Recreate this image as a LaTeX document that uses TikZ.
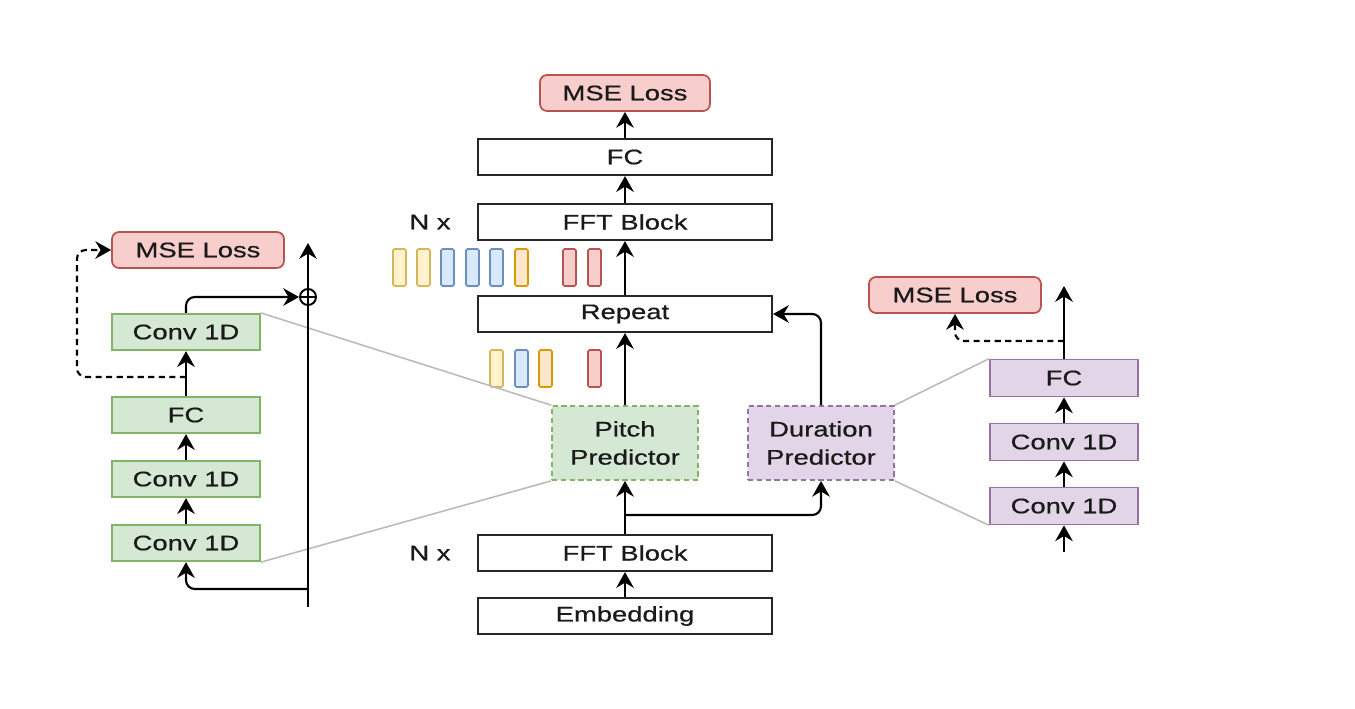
\documentclass[tikz,border=0pt]{standalone}
\usepackage{fontspec}
\setmainfont{Liberation Sans}[FakeStretch=1.3,FakeBold=0.6]
\usetikzlibrary{arrows.meta}
\definecolor{redF}{HTML}{F8CECC}\definecolor{redD}{HTML}{B85450}
\definecolor{grnF}{HTML}{D5E8D4}\definecolor{grnD}{HTML}{82B366}
\definecolor{purF}{HTML}{E1D5E7}\definecolor{purD}{HTML}{9673A6}
\definecolor{yelF}{HTML}{FFF2CC}\definecolor{yelD}{HTML}{D6B656}
\definecolor{bluF}{HTML}{DAE8FC}\definecolor{bluD}{HTML}{6C8EBF}
\definecolor{orgF}{HTML}{FFE6CC}\definecolor{orgD}{HTML}{D79B00}
\definecolor{txt}{HTML}{1A1A1A}
\definecolor{gryL}{HTML}{BBBBBB}
\begin{document}
\begin{tikzpicture}[x=0.02cm,y=-0.02cm,
  every node/.style={font=\fontsize{12}{15}\selectfont, text=txt, inner sep=0pt, align=center},
  blk/.style={draw=black!85, line width=1.2pt, fill=white, minimum width=5.88cm, minimum height=0.72cm},
  loss/.style={draw=redD, fill=redF, line width=1pt, rounded corners=4pt, minimum width=3.44cm, minimum height=0.72cm},
  gbox/.style={draw=grnD, fill=grnF, line width=1pt, minimum width=2.96cm, minimum height=0.73cm},
  pbox/.style={draw=purD, fill=purF, line width=1pt, minimum width=2.96cm, minimum height=0.74cm},
  pred/.style={line width=1pt, dash pattern=on 3pt off 2pt, minimum width=2.92cm, minimum height=1.48cm},
  arr/.style={draw=black, line width=1.2pt, -{Stealth[length=9pt,width=10pt,inset=3pt]}},
  rc/.style={rounded corners=5pt},
  dsh/.style={dash pattern=on 3.5pt off 2.5pt},
  gline/.style={draw=gryL, line width=0.9pt},
  bar/.style={line width=0.9pt}
]
\useasboundingbox (0,0) rectangle (1355,708);

% centre column
\node[loss, minimum width=3.4cm] (mse1) at (625,93) {MSE Loss};
\node[blk] (fc1) at (625,157) {FC};
\node[blk] (fft1) at (625,222) {FFT Block};
\node (nx1) at (430,222) {N x};
\node[blk] (rep) at (625,314) {Repeat};
\node[pred, draw=grnD, fill=grnF] (pitch) at (625,443) {Pitch\\[1pt]Predictor};
\node[pred, draw=purD, fill=purF] (dur) at (821,443) {Duration\\[1pt]Predictor};
\node[blk] (fft2) at (625,553) {FFT Block};
\node (nx2) at (430,553) {N x};
\node[blk] (emb) at (625,616) {Embedding};

% bars
\foreach \xa/\f/\d in {393/yelF/yelD,417/yelF/yelD,441/bluF/bluD,466/bluF/bluD,490/bluF/bluD,515/orgF/orgD,563/redF/redD,588/redF/redD}
  \draw[bar, draw=\d, fill=\f, rounded corners=0.8pt] (\xa,249) rectangle ++(13,37);
\foreach \xa/\f/\d in {490/yelF/yelD,515/bluF/bluD,539/orgF/orgD,588/redF/redD}
  \draw[bar, draw=\d, fill=\f, rounded corners=0.8pt] (\xa,350) rectangle ++(13,37);

% left column
\node[loss] (mse2) at (198,250) {MSE Loss};
\node[gbox] (conv3) at (186,332) {Conv 1D};
\node[gbox] (fcL) at (186,415) {FC};
\node[gbox] (conv2) at (186,479) {Conv 1D};
\node[gbox] (conv1) at (186,543) {Conv 1D};
\node[draw=black, line width=1.1pt, circle, minimum size=0.32cm, fill=white] (plus) at (308,297) {};

% right column
\node[loss] (mse3) at (955,295) {MSE Loss};
\node[pbox] (fcR) at (1064,378) {FC};
\node[pbox] (convR2) at (1064,442) {Conv 1D};
\node[pbox] (convR1) at (1064,506) {Conv 1D};

% grey zoom lines
\draw[gline] (conv3.north east) -- (pitch.north west);
\draw[gline] (conv1.south east) -- (pitch.south west);
\draw[gline] (dur.north east) -- (fcR.north west);
\draw[gline] (dur.south east) -- (convR1.south west);

% centre connectors
\draw[arr] (emb.north) -- (fft2.south);
\draw[arr] (fft2.north) -- (pitch.south);
\coordinate (br) at (625,515);
\draw[arr, rc] (br) -| (dur.south);
\draw[arr, rc] (dur.north) |- (rep.east);
\draw[arr] (pitch.north) -- (rep.south);
\draw[arr] (rep.north) -- (fft1.south);
\draw[arr] (fft1.north) -- (fc1.south);
\draw[arr] (fc1.north) -- (mse1.south);

% left connectors
\coordinate (vb) at (308,607);
\coordinate (vt) at (308,243);
\coordinate (lb) at (308,589);
\draw[arr] (vb) -- (vt);
\draw[line width=1.1pt] (plus.west) -- (plus.east);
\draw[arr, rc] (lb) -| (conv1.south);
\draw[arr] (conv1.north) -- (conv2.south);
\draw[arr] (conv2.north) -- (fcL.south);
\draw[arr] (fcL.north) -- (conv3.south);
\draw[arr, rc] (conv3.north) |- (plus.west);
\coordinate (dl) at (186,377);
\draw[arr, dsh, rc] (dl) -- ++(-109,0) |- (mse2.west);

% right connectors
\coordinate (rb) at (1064,552);
\coordinate (rt) at (1064,286);
\coordinate (dr) at (1064,341);
\draw[arr] (rb) -- (convR1.south);
\draw[arr] (convR1.north) -- (convR2.south);
\draw[arr] (convR2.north) -- (fcR.south);
\draw[arr] (fcR.north) -- (rt);
\draw[arr, dsh, rc] (dr) -| (mse3.south);
\end{tikzpicture}
\end{document}
